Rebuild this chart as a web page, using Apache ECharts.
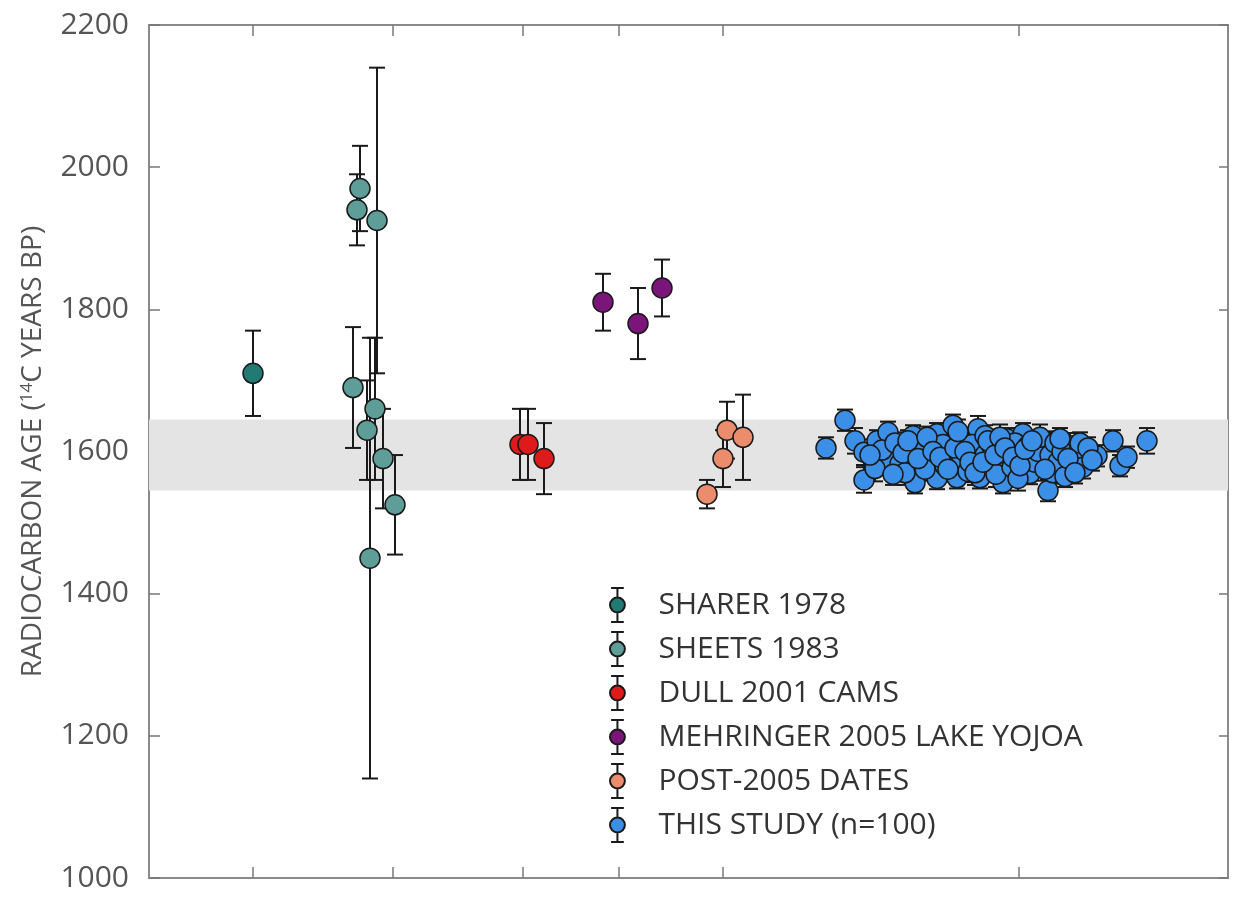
<!DOCTYPE html>
<html>
<head>
<meta charset="utf-8">
<script src="https://cdn.jsdelivr.net/npm/echarts@6/dist/echarts.min.js"></script>
<style>
  html, body { margin: 0; padding: 0; background: #fff; }
  #chart { width: 1234px; height: 900px; }
</style>
</head>
<body>
<div id="chart"></div>
<script>
// each point: [position along the x axis, radiocarbon age, 1-sigma error]
const sharer1978 = [[10.4, 1710, 60]];
const sheets1983 = [
  [21.1, 1970, 60], [20.8, 1940, 50], [22.8, 1925, 215], [20.4, 1690, 85],
  [22.6, 1660, 100], [21.8, 1630, 70], [22.1, 1450, 310], [23.4, 1590, 70],
  [24.6, 1525, 70]
];
const dull2001 = [[37.1, 1610, 50], [37.9, 1610, 50], [39.5, 1590, 50]];
const mehringer2005 = [[45.4, 1810, 40], [48.9, 1780, 50], [51.3, 1830, 40]];
const post2005 = [[55.8, 1540, 20], [57.4, 1590, 40], [57.8, 1630, 40], [59.4, 1620, 60]];
const thisStudy = [
  [67.7, 1605, 15], [69.6, 1644, 15], [70.6, 1615, 18], [71.5, 1599, 18], [71.5, 1560, 18],
  [72.8, 1615, 15], [73.9, 1627, 15], [73.9, 1590, 18], [72.6, 1576, 18], [76.4, 1622, 15],
  [76.4, 1594, 15], [76.6, 1556, 15], [75.1, 1583, 18], [78.8, 1625, 15], [78.1, 1587, 15],
  [78.8, 1562, 15], [80.4, 1637, 15], [80.1, 1597, 15], [80.8, 1563, 15], [82.9, 1632, 18],
  [82.8, 1599, 15], [83.1, 1563, 15], [84.1, 1580, 15], [85.8, 1618, 15], [85.4, 1587, 15],
  [85.4, 1556, 15], [87.4, 1625, 15], [87.4, 1594, 15], [88.1, 1569, 15], [89.8, 1613, 15],
  [89.9, 1545, 15], [90.4, 1570, 15], [89.4, 1590, 15], [92.1, 1608, 18], [92.4, 1583, 15],
  [94.8, 1594, 15], [96.4, 1615, 15], [97.1, 1580, 15], [97.8, 1592, 15], [99.8, 1615, 18],
  [73.3, 1602, 16], [74.6, 1612, 15], [75.6, 1570, 17], [77.1, 1608, 15], [77.6, 1575, 16],
  [79.4, 1610, 15], [79.6, 1580, 18], [81.1, 1618, 15], [81.3, 1590, 16], [81.9, 1572, 15],
  [82.3, 1610, 17], [83.6, 1622, 15], [83.6, 1595, 16], [84.3, 1607, 15], [84.7, 1568, 18],
  [86.1, 1600, 15], [86.3, 1578, 16], [86.6, 1612, 15], [86.9, 1562, 17], [87.9, 1608, 15],
  [88.6, 1585, 16], [88.9, 1600, 15], [89.1, 1620, 18], [90.1, 1595, 15], [90.6, 1612, 16],
  [90.9, 1585, 15], [91.3, 1600, 17], [91.6, 1565, 15], [92.9, 1598, 16], [93.1, 1612, 15],
  [93.4, 1578, 16], [93.9, 1605, 15], [72.1, 1595, 17], [74.4, 1568, 15], [75.4, 1598, 16],
  [75.9, 1615, 15], [76.9, 1590, 18], [77.8, 1620, 15], [78.4, 1600, 16], [79.1, 1592, 15],
  [79.9, 1575, 17], [80.6, 1605, 15], [81.6, 1600, 16], [82.1, 1585, 15], [82.6, 1570, 17],
  [83.4, 1585, 15], [83.9, 1615, 16], [84.6, 1595, 15], [85.1, 1620, 18], [85.6, 1605, 15],
  [86.4, 1592, 16], [87.1, 1580, 15], [87.6, 1603, 17], [88.3, 1615, 15], [89.6, 1575, 16],
  [91.1, 1618, 15], [91.9, 1590, 16], [92.6, 1570, 15], [80.9, 1628, 17], [94.3, 1588, 15]
];

const groupNames = ['SHARER 1978', 'SHEETS 1983', 'DULL 2001 CAMS',
  'MEHRINGER 2005 LAKE YOJOA', 'POST-2005 DATES', 'THIS STUDY (n=100)'];
const groupData = [sharer1978, sheets1983, dull2001, mehringer2005, post2005, thisStudy];
const groupColors = ['#217a74', '#5f9d98', '#de1a1a', '#7b157a', '#eb8d6c', '#3b8fe6'];

const bandRange = [1545, 1645];
const xTickPositions = [10.4, 24.4, 37.4, 47.0, 57.4, 87.0];
const yTicks = { min: 1000, max: 2200, step: 200 };

const FONT = '"Open Sans", "DejaVu Sans", sans-serif';
const legendIcon = 'path://M2,1 L14,1 M8,1 L8,10 M8,24 L8,33 M2,33 L14,33 ' +
  'M1,17 A7,7 0 1 0 15,17 A7,7 0 1 0 1,17 Z';

const chart = echarts.init(document.getElementById('chart'));

function renderErrorBar(params, api) {
  const x = api.value(0);
  const top = api.coord([x, api.value(2)]);
  const bot = api.coord([x, api.value(1)]);
  const w = 8;
  const style = { stroke: '#1a1a1a', lineWidth: 2 };
  return {
    type: 'group',
    children: [
      { type: 'line', shape: { x1: top[0], y1: top[1], x2: bot[0], y2: bot[1] }, style },
      { type: 'line', shape: { x1: top[0] - w, y1: top[1], x2: top[0] + w, y2: top[1] }, style },
      { type: 'line', shape: { x1: bot[0] - w, y1: bot[1], x2: bot[0] + w, y2: bot[1] }, style }
    ]
  };
}

function renderTick(params, api) {
  const x = api.value(0);
  const b = api.coord([x, yTicks.min]);
  const t = api.coord([x, yTicks.max]);
  const style = { stroke: '#777', lineWidth: 1.5 };
  return {
    type: 'group',
    children: [
      { type: 'line', shape: { x1: b[0], y1: b[1], x2: b[0], y2: b[1] - 11 }, style },
      { type: 'line', shape: { x1: t[0], y1: t[1], x2: t[0], y2: t[1] + 11 }, style }
    ]
  };
}

const series = [
  {
    type: 'line',
    data: [],
    silent: true,
    z: 0,
    markArea: {
      silent: true,
      itemStyle: { color: '#e4e4e4' },
      data: [[{ yAxis: bandRange[0] }, { yAxis: bandRange[1] }]]
    }
  },
  {
    type: 'custom',
    renderItem: renderTick,
    data: xTickPositions.map(v => [v]),
    silent: true,
    z: 1
  }
];

groupData.forEach((pts, i) => {
  series.push({
    type: 'custom',
    name: groupNames[i] + ' err',
    renderItem: renderErrorBar,
    data: pts.map(p => [p[0], p[1] - p[2], p[1] + p[2]]),
    silent: true,
    z: 2
  });
  series.push({
    type: 'scatter',
    name: groupNames[i],
    data: pts.map(p => [p[0], p[1]]),
    symbol: 'circle',
    symbolSize: 20,
    itemStyle: { color: groupColors[i], borderColor: '#1a1a1a', borderWidth: 1.5, opacity: 1 },
    z: 2
  });
});

const option = {
  animation: false,
  backgroundColor: '#fff',
  grid: {
    left: 149, top: 25, right: 6, bottom: 22,
    show: true, borderColor: '#8a8a8a', borderWidth: 2
  },
  xAxis: {
    type: 'value', min: 0, max: 107.9,
    axisLine: { show: false }, axisTick: { show: false },
    axisLabel: { show: false }, splitLine: { show: false }
  },
  yAxis: [
    {
      type: 'value', min: yTicks.min, max: yTicks.max, interval: yTicks.step,
      axisLine: { show: false },
      axisTick: { show: true, inside: true, length: 11, lineStyle: { color: '#777', width: 1.5 } },
      axisLabel: { fontSize: 30, color: '#555', fontFamily: FONT, margin: 20, formatter: v => String(v) },
      splitLine: { show: false },
      name: '{a|RADIOCARBON AGE (}{s|14}{a|C YEARS BP)}',
      nameLocation: 'middle',
      nameGap: 102,
      nameTextStyle: {
        rich: {
          a: { fontSize: 28, color: '#555', fontFamily: FONT },
          s: { fontSize: 17, color: '#555', fontFamily: FONT, verticalAlign: 'top', padding: [0, 0, 10, 0] }
        }
      }
    },
    {
      type: 'value', min: yTicks.min, max: yTicks.max, interval: yTicks.step,
      position: 'right',
      axisLine: { show: false },
      axisTick: { show: true, inside: true, length: 9, lineStyle: { color: '#777', width: 1.5 } },
      axisLabel: { show: false },
      splitLine: { show: false }
    }
  ],
  legend: {
    data: groupNames,
    orient: 'vertical',
    left: 604,
    top: 582,
    itemWidth: 16,
    itemHeight: 34,
    itemGap: 8,
    icon: legendIcon,
    selectedMode: false,
    textStyle: { fontSize: 30, color: '#333', fontFamily: FONT, lineHeight: 34, padding: [0, 0, 0, 28] }
  },
  series
};

chart.setOption(option);
</script>
</body>
</html>
